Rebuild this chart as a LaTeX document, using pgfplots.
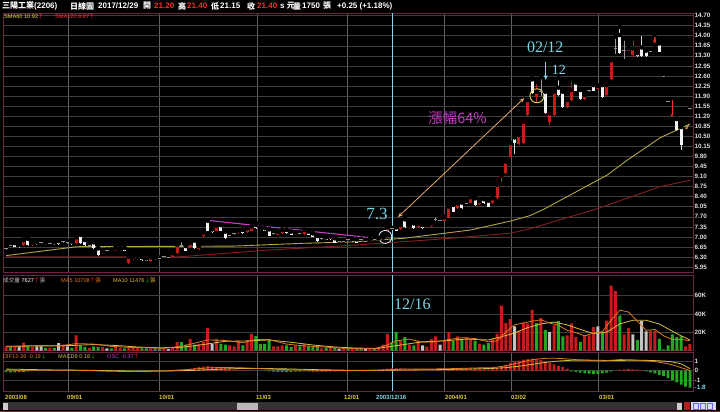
\documentclass[border=0pt]{standalone}
\usepackage{pgfplots}
\usepackage{pgfplotstable}
\pgfplotsset{compat=1.18}
\usepackage{fontspec}
\setmainfont{Liberation Sans}
\newfontfamily\cjk{Noto Sans CJK TC}
\newfontfamily\serifx{Liberation Serif}
\usetikzlibrary{arrows.meta}

\definecolor{bord}{HTML}{6A2448}
\definecolor{hgrid}{HTML}{3E3E3E}
\definecolor{vgrid}{HTML}{606060}
\definecolor{cred}{HTML}{C81C1C}
\definecolor{hred}{HTML}{FF2A2A}
\definecolor{vgreen}{HTML}{22A822}
\definecolor{vgray}{HTML}{C4C4C4}
\definecolor{cyanx}{HTML}{7FD6E6}
\definecolor{sma60}{HTML}{B0A844}
\definecolor{sma120}{HTML}{8A1E1E}
\definecolor{magx}{HTML}{C83CC8}
\definecolor{orgx}{HTML}{E8A868}
\definecolor{datey}{HTML}{E0C840}
\definecolor{ma5}{HTML}{E07A20}
\definecolor{ma10}{HTML}{D8C040}
\definecolor{yel}{HTML}{E6D84A}

\pgfplotstableread{
i O H L C
0 6.60 6.65 6.55 6.60
1 6.72 6.76 6.68 6.72
2 6.78 6.82 6.64 6.66
3 6.72 6.75 6.63 6.66
4 6.72 6.93 6.70 6.89
5 6.93 6.96 6.70 6.72
6 6.72 6.83 6.70 6.80
7 6.82 6.85 6.73 6.75
8 6.80 6.84 6.76 6.80
9 6.81 6.84 6.72 6.74
10 6.78 6.82 6.74 6.78
11 6.82 6.85 6.72 6.74
12 6.85 6.88 6.72 6.74
13 6.83 6.89 6.79 6.83
14 6.81 6.85 6.77 6.81
15 6.83 6.86 6.72 6.74
16 6.78 7.12 6.76 6.98
17 7.07 7.10 6.76 6.78
18 6.89 6.91 6.70 6.72
19 6.72 6.76 6.68 6.72
20 6.81 6.84 6.58 6.60
21 6.60 6.62 6.35 6.37
22 6.43 6.54 6.41 6.51
23 6.52 6.56 6.48 6.52
24 6.54 6.57 6.47 6.49
25 6.52 6.66 6.50 6.60
26 6.54 6.62 6.52 6.60
27 6.61 6.64 6.50 6.52
28 6.10 6.33 6.05 6.31
29 6.22 6.33 6.20 6.31
30 6.28 6.36 6.26 6.34
31 6.29 6.31 6.18 6.20
32 6.25 6.27 6.15 6.17
33 6.16 6.31 6.14 6.29
34 6.29 6.31 6.20 6.22
35 6.24 6.28 6.20 6.24
36 6.31 6.36 6.27 6.31
37 6.29 6.33 6.25 6.29
38 6.31 6.45 6.29 6.43
39 6.43 6.74 6.41 6.72
40 6.71 6.89 6.67 6.71
41 6.68 6.70 6.50 6.52
42 6.66 6.82 6.64 6.80
43 6.87 6.89 6.58 6.60
44 6.58 6.70 6.56 6.68
45 7.03 7.17 7.01 7.15
46 7.56 7.58 7.20 7.22
47 7.26 7.28 7.15 7.17
48 7.22 7.41 7.20 7.39
49 7.41 7.43 7.20 7.22
50 7.18 7.20 6.93 6.95
51 7.07 7.11 7.03 7.07
52 7.12 7.16 7.08 7.12
53 7.12 7.24 7.10 7.22
54 7.24 7.26 7.10 7.12
55 7.16 7.32 7.14 7.30
56 7.22 7.38 7.20 7.36
57 7.41 7.49 7.28 7.30
58 7.33 7.35 7.25 7.27
59 7.30 7.32 7.20 7.22
60 7.26 7.28 7.02 7.04
61 7.12 7.16 7.08 7.12
62 7.07 7.20 7.05 7.18
63 7.12 7.26 7.10 7.24
64 7.24 7.26 7.10 7.12
65 7.18 7.20 7.05 7.07
66 7.07 7.17 7.05 7.15
67 7.12 7.16 7.08 7.12
68 7.10 7.26 7.08 7.24
69 7.18 7.20 7.05 7.07
70 7.12 7.14 6.99 7.01
71 7.03 7.05 6.84 6.86
72 6.95 6.99 6.91 6.95
73 6.98 7.00 6.89 6.91
74 7.01 7.03 6.91 6.93
75 6.95 6.97 6.78 6.80
76 6.83 6.87 6.79 6.83
77 6.83 6.87 6.79 6.83
78 6.91 6.95 6.87 6.91
79 6.93 6.95 6.84 6.86
80 6.91 6.93 6.78 6.80
81 6.90 6.94 6.86 6.90
82 6.86 6.90 6.82 6.86
83 6.86 6.94 6.84 6.92
84 6.90 6.94 6.86 6.90
85 6.88 6.97 6.86 6.95
86 6.97 6.99 6.90 6.92
87 7.22 7.35 7.20 7.33
88 7.28 7.32 7.24 7.28
89 7.33 7.47 7.20 7.22
90 7.27 7.43 7.25 7.41
91 7.61 7.63 7.31 7.33
92 7.30 7.40 7.28 7.38
93 7.47 7.49 7.28 7.30
94 7.33 7.47 7.31 7.45
95 7.41 7.43 7.28 7.30
96 7.33 7.43 7.31 7.41
97 7.38 7.49 7.36 7.47
98 7.61 7.76 7.57 7.61
99 7.59 7.64 7.55 7.59
100 7.57 7.70 7.55 7.68
101 7.68 8.07 7.66 8.05
102 8.11 8.13 7.86 7.88
103 7.99 8.19 7.97 8.17
104 8.19 8.21 7.97 7.99
105 8.17 8.26 8.13 8.17
106 8.19 8.40 8.17 8.38
107 8.34 8.36 8.09 8.11
108 8.14 8.27 8.12 8.25
109 8.31 8.33 8.15 8.17
110 8.26 8.28 8.03 8.05
111 8.17 8.36 8.15 8.34
112 8.34 8.83 8.32 8.81
113 9.05 9.20 8.90 9.13
114 9.21 9.64 9.19 9.62
115 9.79 10.28 9.77 10.26
116 10.46 10.48 9.90 10.26
117 10.23 10.57 10.21 10.55
118 10.26 11.03 10.24 11.01
119 11.24 11.78 11.22 11.76
120 12.48 12.52 11.97 11.99
121 11.88 12.40 11.70 12.05
122 12.08 12.55 11.90 12.08
123 12.05 12.07 11.28 11.30
124 11.00 11.32 10.90 11.30
125 11.24 12.07 11.22 12.05
126 12.19 12.52 11.92 11.94
127 12.05 12.07 11.49 11.51
128 11.51 11.78 11.49 11.76
129 11.76 12.48 11.74 12.11
130 12.37 12.39 12.07 12.09
131 12.11 12.13 11.77 11.79
132 11.79 11.96 11.77 11.94
133 12.09 12.14 12.04 12.09
134 12.28 12.30 12.07 12.09
135 12.13 12.27 12.11 12.25
136 12.28 12.30 11.84 11.86
137 11.94 12.45 11.92 12.28
138 12.48 13.17 12.46 13.15
139 13.55 13.97 13.38 13.55
140 14.02 14.31 13.37 13.39
141 13.50 13.90 13.20 13.50
142 13.48 13.58 13.46 13.56
143 13.33 13.90 13.27 13.56
144 13.39 13.41 13.27 13.29
145 13.59 14.08 13.27 13.29
146 13.48 13.50 13.27 13.29
147 13.44 13.48 13.40 13.44
148 13.62 14.02 13.60 13.68
149 13.73 13.75 13.42 13.44
150 12.58 12.58 12.58 12.58
151 11.73 11.73 11.73 11.73
153 11.10 11.12 10.70 10.72
154 10.82 10.84 10.02 10.20
156 11.48 11.48 11.48 11.48
}\candles

\pgfplotstableread{
i v c
0 4.4 0
1 3.6 1
2 3.6 0
3 4.4 2
4 8.7 0
5 4.4 1
6 3.6 0
7 4.4 2
8 4.4 2
9 2.9 1
10 2.9 0
11 2.9 1
12 8.0 2
13 6.5 0
14 4.4 2
15 2.9 1
16 16.4 0
17 5.5 1
18 3.6 1
19 2.9 0
20 4.4 1
21 3.6 1
22 3.6 0
23 2.2 2
24 2.2 1
25 5.5 0
26 2.9 0
27 2.2 1
28 3.6 0
29 3.6 0
30 2.9 0
31 2.2 1
32 2.2 1
33 2.2 0
34 2.2 1
35 2.2 1
36 2.2 0
37 1.8 2
38 2.9 0
39 9.1 0
40 9.1 1
41 6.5 1
42 12.7 0
43 6.5 1
44 7.3 0
45 9.1 0
46 24.4 0
47 7.3 2
48 12.7 0
49 7.3 1
50 6.5 1
51 5.5 0
52 4.4 0
53 10.9 0
54 5.5 1
55 10.9 0
56 18.2 0
57 15.6 1
58 7.3 1
59 7.3 1
60 11.6 1
61 4.4 0
62 4.4 0
63 5.5 0
64 5.5 1
65 3.6 1
66 5.5 0
67 4.4 1
68 7.3 0
69 4.4 1
70 3.6 1
71 3.6 1
72 2.2 0
73 2.9 1
74 2.9 0
75 2.9 1
76 1.8 2
77 2.2 0
78 2.2 1
79 2.2 0
80 2.2 1
81 1.8 1
82 1.5 2
83 1.5 0
84 1.5 1
85 3.6 0
86 6.5 0
87 18.2 0
88 9.1 1
89 20.0 1
90 10.2 0
91 14.5 1
92 6.5 0
93 5.5 1
94 10.2 0
95 5.5 2
96 4.4 0
97 12.7 0
98 15.3 0
99 6.5 2
100 10.9 0
101 20.0 0
102 10.2 1
103 15.3 0
104 12.7 1
105 14.5 0
106 12.7 0
107 10.9 1
108 7.3 0
109 6.5 1
110 8.0 1
111 12.7 0
112 18.2 0
113 49.0 0
114 29.8 0
115 34.2 0
116 26.2 2
117 21.8 0
118 30.5 0
119 29.5 0
120 44.4 0
121 29.8 1
122 35.3 0
123 22.5 1
124 20.0 2
125 27.3 0
126 32.0 1
127 15.3 1
128 16.4 0
129 29.5 0
130 14.5 0
131 9.1 1
132 16.4 0
133 16.4 0
134 25.5 0
135 26.2 2
136 20.0 1
137 32.7 0
138 70.9 0
139 64.7 0
140 38.2 1
141 17.5 0
142 24.7 0
143 17.5 2
144 11.6 1
145 32.0 2
146 21.0 2
147 21.8 0
148 21.8 0
149 12.7 1
150 1.1 1
151 5.5 1
152 17.5 1
153 14.5 1
154 15.3 1
155 4.4 0
156 7.3 0
}\vols

\pgfplotstableread{
i v
0 -0.18
1 -0.2
2 -0.2
3 -0.18
4 -0.15
5 -0.1
6 -0.06
7 -0.04
8 -0.03
9 -0.02
10 -0.02
11 0.02
12 0.03
13 0.03
14 0.02
15 0.02
16 0.05
17 0.04
18 0.02
20 -0.05
21 -0.08
22 -0.1
23 -0.1
24 -0.08
25 -0.07
26 -0.06
27 -0.05
28 -0.1
29 -0.12
30 -0.1
31 -0.1
32 -0.08
33 -0.06
34 -0.05
35 -0.03
36 -0.02
38 0.05
39 0.08
40 0.12
41 0.15
42 0.2
43 0.28
44 0.35
45 0.4
46 0.45
47 0.42
48 0.38
49 0.32
50 0.25
51 0.18
52 0.12
53 0.06
54 0.03
55 0.02
56 0.02
58 -0.02
59 -0.05
60 -0.1
61 -0.12
62 -0.14
63 -0.15
64 -0.15
65 -0.14
66 -0.13
67 -0.12
68 -0.1
69 -0.1
70 -0.12
71 -0.12
72 -0.13
73 -0.12
74 -0.1
75 -0.08
76 -0.05
77 -0.03
78 -0.02
80 0.02
81 0.03
82 0.05
83 0.06
84 0.08
85 0.1
86 0.15
87 0.2
88 0.22
89 0.22
90 0.2
91 0.17
92 0.12
93 0.08
94 0.05
95 0.03
96 0.02
97 0.03
98 0.05
99 0.08
100 0.1
101 0.15
102 0.17
103 0.18
104 0.18
105 0.2
106 0.22
107 0.2
108 0.18
109 0.15
110 0.12
111 0.15
112 0.25
113 0.4
114 0.6
115 0.8
116 0.95
117 1.05
118 1.15
119 1.2
120 1.25
121 1.2
122 1.1
123 0.95
124 0.8
125 0.65
126 0.5
127 0.35
128 0.2
129 -0.08
130 -0.15
131 -0.22
132 -0.28
133 -0.32
134 -0.35
135 -0.35
136 -0.3
137 -0.22
138 -0.12
140 0.08
141 0.12
142 0.15
143 0.12
144 0.08
145 0.03
146 -0.1
147 -0.2
148 -0.3
149 -0.45
150 -0.6
151 -0.8
152 -1.0
153 -1.25
154 -1.5
155 -1.7
156 -1.8
}\osc

\pgfplotsset{
  panel/.style={
    scale only axis, width=690pt, xmin=-0.7, xmax=156.7,
    anchor=north west,
    axis line style={draw=bord, line width=0.8pt},
    xtick={14.1,34.9,57.3,77.8,99.9,115.2,135.1},
    xticklabels={},
    xmajorgrids, ymajorgrids,
    every axis x grid/.append style={vgrid, line width=0.5pt},
    every axis y grid/.append style={hgrid, line width=0.5pt},
    major tick length=0pt,
    yticklabel pos=right,
    yticklabel style={font=\bfseries\fontsize{6.3}{7}\selectfont, text=white!88!black, inner sep=1.5pt},
    /pgf/number format/assume math mode=true,
  },
  wick/.style={only marks, mark=none, error bars/.cd, y dir=minus, y explicit, error mark=none,
    error bar style={solid, draw=#1, line width=0.7pt}},
  body/.style={only marks, mark=none, error bars/.cd, y dir=minus, y explicit, error mark=none,
    error bar style={solid, draw=#1, line width=3pt}},
  vbar/.style={ybar, bar width=3pt, bar shift=0pt, fill=#1, draw=none},
}

\begin{document}
\begin{tikzpicture}
\fill[black] (0,0) rectangle (720pt,-412pt);
\useasboundingbox (0,0) rectangle (720pt,-412pt);

% ---------------- price panel ----------------
\begin{axis}[panel, at={(3pt,-13pt)}, height=259pt, ymin=5.78, ymax=14.79,
  ytick={5.95,6.30,6.65,7.00,7.35,7.70,8.05,8.40,8.75,9.10,9.45,9.80,10.15,10.50,10.85,11.20,11.55,11.90,12.25,12.60,12.95,13.30,13.65,14.00,14.35,14.70},
  yticklabel style={/pgf/number format/fixed, /pgf/number format/fixed zerofill, /pgf/number format/precision=2},
]
\draw[cyanx, line width=0.7pt] (axis cs:88.1,5.78) -- (axis cs:88.1,14.79);
\addplot[sma120, line width=0.9pt, mark=none] coordinates {(0,6.31)(39.7,6.31)(59.5,6.54)(80,6.72)(101.3,6.95)(115,7.13)(119.5,7.28)(126.4,7.6)(134,7.94)(144.6,8.5)(149.2,8.75)(156,8.97)};
\addplot[sma60, line width=0.9pt, mark=none] coordinates {(0,6.35)(16.2,6.66)(33.5,6.67)(51.8,6.68)(68,6.78)(80,6.83)(83,6.88)(90.6,6.95)(105.9,7.24)(115,7.55)(119.5,7.74)(122.5,7.95)(129.8,8.55)(137.1,9.15)(141.7,9.67)(149.2,10.45)(156,10.93)};
% wicks
\addplot[restrict expr to domain={\thisrow{C}-\thisrow{O}}{0.001:100}, wick=cred] table[x=i, y=H, y error minus expr=\thisrow{H}-\thisrow{L}] \candles;
\addplot[restrict expr to domain={\thisrow{C}-\thisrow{O}}{-100:-0.001}, wick=white!85!black] table[x=i, y=H, y error minus expr=\thisrow{H}-\thisrow{L}] \candles;
\addplot[restrict expr to domain={\thisrow{C}-\thisrow{O}}{-0.0005:0.0005}, wick=gray!80] table[x=i, y=H, y error minus expr=\thisrow{H}-\thisrow{L}] \candles;
% bodies
\addplot[restrict expr to domain={\thisrow{C}-\thisrow{O}}{0.001:100}, body=cred] table[x=i, y=C, y error minus expr=\thisrow{C}-\thisrow{O}] \candles;
\addplot[restrict expr to domain={\thisrow{C}-\thisrow{O}}{-100:-0.001}, body=white!95!black] table[x=i, y=O, y error minus expr=\thisrow{O}-\thisrow{C}] \candles;
\addplot[restrict expr to domain={\thisrow{C}-\thisrow{O}}{-0.0005:0.0005}, only marks, mark=-, mark size=1.7pt, mark options={draw=gray!85, line width=0.8pt}] table[x=i, y=C] \candles;
% annotations
\draw[magx, line width=1.1pt] (axis cs:45.8,7.58) -- (axis cs:84.6,6.95);
\draw[orgx, line width=0.8pt, {Stealth[length=5pt,width=4pt]}-{Stealth[length=5pt,width=4pt]}] (axis cs:89.4,7.69) -- (axis cs:118.2,11.83);
\draw[yel, line width=0.9pt] (axis cs:121.1,11.91) circle[radius=7pt];
\draw[white!85!cyan, line width=0.8pt] (axis cs:86.5,7.0) circle[radius=6.5pt];
\node[text=cyanx, font=\serifx\fontsize{17}{17}\selectfont] at (axis cs:84.6,7.80) {7.3};
\node[text=cyanx, font=\serifx\fontsize{16}{16}\selectfont] at (axis cs:123.0,13.59) {02/12};
\draw[cyanx, line width=1pt, -{Stealth[length=5pt,width=4pt]}] (axis cs:123.1,13.10) -- (axis cs:123.1,12.46);
\node[text=cyanx, font=\serifx\fontsize{14}{14}\selectfont] at (axis cs:126.1,12.81) {12};
\node[text=magx, font=\cjk\fontsize{14.5}{15}\selectfont] at (axis cs:103,11.15) {漲幅64\%};
\draw[hred, line width=0.8pt, -{Stealth[length=3pt,width=3pt]}] (axis cs:147.9,14.08) -- (axis cs:147.9,13.74);
\draw[hred, line width=0.8pt, -{Stealth[length=3pt,width=3pt]}] (axis cs:151.9,11.78) -- (axis cs:151.9,11.18);
\draw[orgx, line width=0.8pt, -{Stealth[length=3pt,width=3pt]}] (axis cs:155.8,10.92) -- (axis cs:155.0,10.74);
\end{axis}

% ---------------- volume panel ----------------
\begin{axis}[panel, at={(3pt,-275pt)}, height=75.5pt, ymin=0, ymax=82.4,
  ytick={20,40,60}, yticklabels={20K,40K,60K},
]
\draw[cyanx, line width=0.7pt] (axis cs:88.1,0) -- (axis cs:88.1,82.4);
\addplot[vbar=cred, restrict expr to domain={\thisrow{c}}{-0.5:0.5}] table[x=i, y=v] \vols;
\addplot[vbar=vgreen, restrict expr to domain={\thisrow{c}}{0.5:1.5}] table[x=i, y=v] \vols;
\addplot[vbar=vgray, restrict expr to domain={\thisrow{c}}{1.5:2.5}] table[x=i, y=v] \vols;
\addplot[ma10, line width=0.8pt, mark=none] coordinates {(0,4.5)(5,4.8)(10,5)(15,5.5)(20,6.5)(25,5.5)(30,3.8)(35,3)(40,3.5)(45,6.5)(50,10)(55,10.5)(60,11.5)(65,9)(70,6)(75,3.8)(80,2.6)(85,2.5)(90,6)(95,9.5)(100,10.5)(105,12.5)(110,11.5)(113,15)(116,19)(119,25)(122,29)(125,31)(128,28)(131,23)(134,18.5)(137,20)(140,29)(143,33)(146,33)(149,29)(152,21)(154,16)(156,11.5)};
\addplot[ma5, line width=0.8pt, mark=none] coordinates {(0,4.5)(4,5)(8,5.5)(12,5)(16,7.5)(20,7)(24,4.5)(28,3.5)(32,3)(36,2.5)(40,4.5)(43,8)(46,11.5)(50,11)(54,8.5)(57,12)(60,12)(64,7)(68,5)(72,4)(76,2.7)(80,2.1)(84,1.8)(87,6)(89,10.5)(92,12.5)(95,9)(98,9.5)(101,12)(104,14)(107,13)(110,9.5)(112,10.5)(114,20)(116,28)(118,30)(120,32)(122,33.5)(124,30)(126,27.5)(128,22)(130,19.5)(132,16)(134,19)(136,20.5)(138,33)(140,44)(142,42)(144,32)(146,22)(148,23)(150,16)(152,12)(154,12)(156,10.7)};
\node[text=cyanx, font=\serifx\fontsize{16}{16}\selectfont] at (axis cs:92.7,50.2) {12/16};
\end{axis}

% ---------------- MACD panel ----------------
\begin{axis}[panel, at={(3pt,-352pt)}, height=39pt, ymin=-2.16, ymax=1.95,
  ytick={-1,0,1}, yticklabels={-1,0,1},
  extra y ticks={-1.8}, extra y tick labels={\textcolor{cyanx}{-1.8}}, extra y tick style={grid=none},
]
\draw[cyanx, line width=0.7pt] (axis cs:88.1,-2.16) -- (axis cs:88.1,1.95);
\addplot[ybar, bar width=2.8pt, bar shift=0pt, fill=cred, draw=none, restrict y to domain=0:10] table[x=i, y=v] \osc;
\addplot[ybar, bar width=2.8pt, bar shift=0pt, fill=vgreen, draw=none, restrict y to domain=-10:0] table[x=i, y=v] \osc;
\addplot[ma10, line width=0.8pt, mark=none] coordinates {(0,0.15)(6,0.1)(12,0.05)(18,0.03)(24,-0.02)(30,-0.06)(36,-0.06)(42,0.0)(46,0.08)(50,0.16)(54,0.22)(58,0.22)(64,0.17)(70,0.1)(78,0.03)(86,0.02)(92,0.06)(100,0.1)(106,0.16)(111,0.22)(114,0.3)(117,0.45)(120,0.65)(123,0.85)(126,1.0)(129,1.08)(132,1.1)(135,1.08)(138,1.05)(141,1.07)(144,1.08)(147,1.06)(150,1.0)(152,0.9)(154,0.7)(156,0.2)};
\addplot[ma5, line width=0.8pt, mark=none] coordinates {(0,0.05)(6,0.02)(12,0.03)(18,0.02)(22,-0.05)(28,-0.12)(34,-0.08)(38,0.0)(42,0.12)(46,0.28)(50,0.32)(54,0.28)(58,0.2)(62,0.12)(68,0.05)(74,0.0)(80,-0.02)(86,0.05)(90,0.15)(96,0.15)(102,0.2)(108,0.28)(111,0.3)(113,0.42)(115,0.6)(117,0.82)(119,1.05)(121,1.2)(123,1.28)(125,1.3)(127,1.25)(130,1.15)(133,1.05)(136,1.0)(138,1.08)(140,1.15)(143,1.12)(146,1.02)(148,0.95)(150,0.8)(152,0.6)(154,0.3)(156,0.0)};
\end{axis}

% ---------------- texts in pixel coordinates ----------------
\begin{scope}[x=1pt, y=-1pt]
\tikzset{hd/.style={anchor=west, inner sep=0pt, font=\bfseries\fontsize{8}{9}\selectfont, text=white}}
\node[hd] at (2,6) {{\cjk 三陽工業}(2206)};
\node[hd] at (70,6) {\cjk 日線圖};
\node[hd] at (98,6) {2017/12/29};
\node[hd] at (143,6) {\cjk 開};
\node[hd, text=hred] at (154,6) {21.20};
\node[hd] at (178,6) {\cjk 高};
\node[hd, text=hred] at (187,6) {21.40};
\node[hd] at (211,6) {\cjk 低};
\node[hd] at (220,6) {21.15};
\node[hd] at (247,6) {\cjk 收};
\node[hd, text=hred] at (257,6) {21.40};
\node[hd] at (280,6) {s {\cjk 元}};
\node[hd] at (293,6) {\cjk 量};
\node[hd] at (302,6) {1750};
\node[hd] at (323,6) {\cjk 張};
\node[hd] at (337,6) {+0.25 (+1.18\%)};

\tikzset{lb/.style={anchor=west, inner sep=0pt, font=\fontsize{5.6}{6}\selectfont}}
\node[lb, text=yel] at (4,16.5) {SMA60 10.92\textcolor{hred}{\cjk ↑}};
\node[lb, text=hred] at (55,16.5) {SMA120 8.87{\cjk ↑}};

\node[lb, text=vgray] at (3,280.5) {{\cjk 成交量} \textcolor{white}{7627}\textcolor{hred}{\cjk ↑}{\cjk 張}};
\node[lb, text=ma5] at (61,280.5) {MA5 10708\textcolor{hred}{\cjk ↑}{\cjk 張}};
\node[lb, text=ma10] at (113,280.5) {MA10 11476\textcolor{vgreen}{\cjk ↓}{\cjk 張}};

\node[lb, text=ma5] at (3,356.5) {DIF12-26 -0.19\textcolor{vgreen}{\cjk ↓}};
\node[lb, text=ma10] at (58,356.5) {MACD9 0.18\textcolor{vgreen}{\cjk ↓}};
\node[lb, text=magx] at (107,356.5) {OSC -0.37\textcolor{hred}{\cjk ↑}};

\tikzset{dt/.style={anchor=west, inner sep=0pt, font=\bfseries\fontsize{6}{7}\selectfont, text=datey}}
\node[dt] at (5,397) {2003/08};
\node[dt] at (67,397) {09/01};
\node[dt] at (159,397) {10/01};
\node[dt] at (256,397) {11/03};
\node[dt] at (344,397) {12/01};
\node[dt, text=cyanx] at (376,397) {2003/12/16};
\node[dt] at (445,397) {2004/01};
\node[dt] at (511,397) {02/02};
\node[dt] at (599,397) {03/01};

% scrollbar
\fill[black!80!white] (3,402) rectangle (682,410);
\fill[gray!55] (237,402.5) rectangle (258,409.5);
\fill[gray!40] (3,402.5) rectangle (8,409.5);
\fill[gray!40] (677,402.5) rectangle (682,409.5);
\fill[hred!70!black] (684,402) rectangle (690,410);
\fill[white!85!blue] (691,402) rectangle (716,410);
\draw[blue!60, line width=0.4pt] (693,403) rectangle (698,409) (700,403) rectangle (705,409) (707,403) rectangle (712,409);
\draw[hred!60!black, line width=0.8pt] (0,411.5) -- (720,411.5);
\end{scope}
\end{tikzpicture}
\end{document}
